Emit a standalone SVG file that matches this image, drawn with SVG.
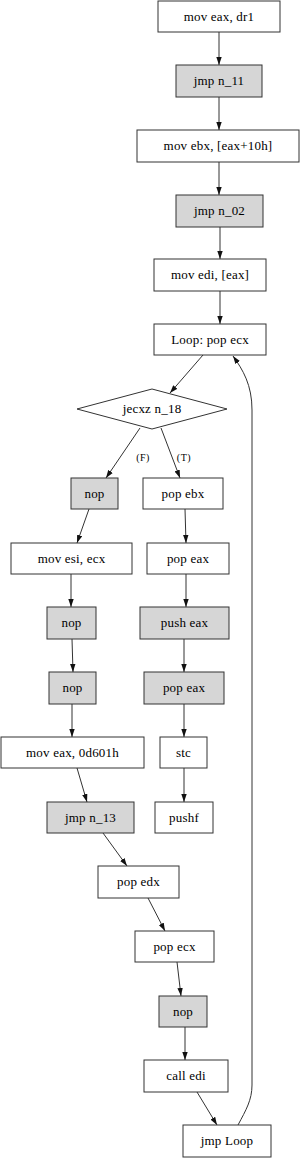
<svg xmlns="http://www.w3.org/2000/svg" width="301" height="1158" viewBox="0 0 301 1158">
<style>
.n rect{fill:#fff;stroke:#333;stroke-width:1}
.n rect.g{fill:#d6d6d6}
polygon.d{fill:#fff;stroke:#333;stroke-width:1}
text{font-family:"Liberation Serif","Times New Roman",serif;font-size:13px;letter-spacing:0.2px;text-anchor:middle;fill:#000}
text.l{font-size:10px;letter-spacing:0.5px}
#edges path{fill:none;stroke:#333;stroke-width:1;marker-end:url(#ah)}
</style>
<defs>
<marker id="ah" viewBox="0 0 10 10" refX="10" refY="5" markerWidth="8" markerHeight="6" markerUnits="userSpaceOnUse" orient="auto" preserveAspectRatio="none">
<path d="M0,0.5 L10,5 L0,9.5 z" fill="#111"/>
</marker>
</defs>
<g id="edges">
<path d="M219,32 L219,65"/>
<path d="M219,97 L219,130"/>
<path d="M219,162 L219,195"/>
<path d="M220,227 L220,259"/>
<path d="M220,291 L220,324"/>
<path d="M203,355 L170,393"/>
<path d="M140,428 L106,478"/>
<path d="M161,428 L180,478"/>
<path d="M89,509 L77,543"/>
<path d="M185,509 L186,543"/>
<path d="M71,574 L71,607"/>
<path d="M186,574 L186,607"/>
<path d="M72,639 L73,672"/>
<path d="M184,639 L184,672"/>
<path d="M72,704 L72,737"/>
<path d="M184,704 L184,737"/>
<path d="M77,768 L87,802"/>
<path d="M184,768 L184,802"/>
<path d="M103,833 L127,866"/>
<path d="M148,898 L165,931"/>
<path d="M177,962 L181,996"/>
<path d="M185,1027 L185,1060"/>
<path d="M197,1092 L217,1125"/>
<path d="M238,1125 C246,1110 252,1100 252,1085 L252,410 C252,385 243,370 233,356"/>
<text class="l" x="143" y="461">(F)</text>
<text class="l" x="184" y="461">(T)</text>
</g>
<g id="n0" class="n"><rect x="158" y="1" width="122" height="31"/><text x="219" y="21">mov eax, dr1</text></g>
<g id="n1" class="n"><rect class="g" x="176" y="65" width="86" height="32"/><text x="219" y="85">jmp n_11</text></g>
<g id="n2" class="n"><rect x="137" y="130" width="162" height="32"/><text x="218" y="150">mov ebx, [eax+10h]</text></g>
<g id="n3" class="n"><rect class="g" x="176" y="195" width="87" height="32"/><text x="219.5" y="215">jmp n_02</text></g>
<g id="n4" class="n"><rect x="154" y="259" width="112" height="32"/><text x="210" y="279">mov edi, [eax]</text></g>
<g id="n5" class="n"><rect x="154" y="324" width="112" height="31"/><text x="210" y="344">Loop: pop ecx</text></g>
<g id="n6" class="n"><polygon class="d" points="152,389 227,409 152,429 77,409"/><text x="152" y="413">jecxz n_18</text></g>
<g id="n7" class="n"><rect class="g" x="71" y="478" width="47" height="31"/><text x="94.5" y="498">nop</text></g>
<g id="n8" class="n"><rect x="143" y="478" width="80" height="31"/><text x="183" y="498">pop ebx</text></g>
<g id="n9" class="n"><rect x="11" y="543" width="121" height="31"/><text x="71.5" y="563">mov esi, ecx</text></g>
<g id="n10" class="n"><rect x="147" y="543" width="82" height="31"/><text x="188" y="563">pop eax</text></g>
<g id="n11" class="n"><rect class="g" x="47" y="607" width="49" height="32"/><text x="71.5" y="627">nop</text></g>
<g id="n12" class="n"><rect class="g" x="140" y="607" width="89" height="32"/><text x="184.5" y="627">push eax</text></g>
<g id="n13" class="n"><rect class="g" x="49" y="672" width="47" height="32"/><text x="72.5" y="692">nop</text></g>
<g id="n14" class="n"><rect class="g" x="144" y="672" width="80" height="32"/><text x="184" y="692">pop eax</text></g>
<g id="n15" class="n"><rect x="1" y="737" width="143" height="31"/><text x="72.5" y="757">mov eax, 0d601h</text></g>
<g id="n16" class="n"><rect x="160" y="737" width="47" height="31"/><text x="183.5" y="757">stc</text></g>
<g id="n17" class="n"><rect class="g" x="47" y="802" width="87" height="31"/><text x="90.5" y="822">jmp n_13</text></g>
<g id="n18" class="n"><rect x="155" y="802" width="58" height="31"/><text x="184" y="822">pushf</text></g>
<g id="n19" class="n"><rect x="98" y="866" width="81" height="32"/><text x="138.5" y="886">pop edx</text></g>
<g id="n20" class="n"><rect x="135" y="931" width="79" height="31"/><text x="174.5" y="951">pop ecx</text></g>
<g id="n21" class="n"><rect class="g" x="159" y="996" width="48" height="31"/><text x="183" y="1016">nop</text></g>
<g id="n22" class="n"><rect x="144" y="1060" width="84" height="32"/><text x="186" y="1080">call edi</text></g>
<g id="n23" class="n"><rect x="183" y="1125" width="88" height="32"/><text x="227" y="1145">jmp Loop</text></g>
</svg>
